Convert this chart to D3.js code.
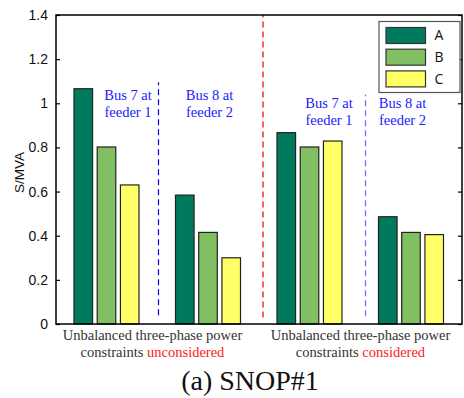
<!DOCTYPE html>
<html>
<head>
<meta charset="utf-8">
<script src="https://cdn.jsdelivr.net/npm/d3@7"></script>
<style>
  html, body { margin: 0; padding: 0; background: #fff; }
  svg { display: block; }
</style>
</head>
<body>
<svg id="chart" width="464" height="398"></svg>
<script>
// Apparent power per phase at the two monitored buses, with and without
// the unbalanced three-phase power constraints.
const groups = ["g1", "g2", "g3", "g4"];
const phases = ["A", "B", "C"];
const phaseA = [1.066, 0.584, 0.867, 0.486];
const phaseB = [0.802, 0.415, 0.802, 0.415];
const phaseC = [0.630, 0.300, 0.829, 0.405];
const busLabels = [["Bus 7 at", "feeder 1"], ["Bus 8 at", "feeder 2"],
                   ["Bus 7 at", "feeder 1"], ["Bus 8 at", "feeder 2"]];
const caseLabels = [["Unbalanced three-phase power", "constraints ", "unconsidered"],
                    ["Unbalanced three-phase power", "constraints ", "considered"]];
const yTicks = [0, 0.2, 0.4, 0.6, 0.8, 1, 1.2, 1.4];
const yLabel = "S/MVA";
const title = "(a) SNOP#1";

const colors = { A: "#007a5e", B: "#80bf62", C: "#ffff66" };
const series = { A: phaseA, B: phaseB, C: phaseC };

const svg = d3.select("#chart");
const m = { left: 56, right: 462, top: 15, bottom: 324 };

const x0 = d3.scaleBand().domain(groups).range([m.left, m.right]).padding(0);
const x1 = d3.scaleBand().domain(phases).range([18, 83]).paddingInner(0.2).paddingOuter(0);
const y = d3.scaleLinear().domain([0, 1.4]).range([m.bottom, m.top]);

const serif = '"Liberation Serif"';
const sans = '"Liberation Sans"';

// bars
const rows = groups.map((g, i) => ({ g, values: phases.map(p => ({ p, v: series[p][i] })) }));
const gg = svg.append("g").selectAll("g").data(rows).join("g")
  .attr("transform", d => `translate(${x0(d.g)},0)`);
gg.selectAll("rect").data(d => d.values).join("rect")
  .attr("x", d => x1(d.p))
  .attr("y", d => y(d.v))
  .attr("width", x1.bandwidth())
  .attr("height", d => y(0) - y(d.v))
  .attr("fill", d => colors[d.p])
  .attr("stroke", "#222")
  .attr("stroke-width", 1.2);

// dashed separators
const sep = [
  { x: x0("g2") + 1, y1: 0.04, y2: 1.095, color: "#0000ff", w: 1.2 },
  { x: x0("g3") + 4, y1: 0.03, y2: 1.4, color: "#e00000", w: 1.2 },
  { x: x0("g4") + 5, y1: 0.035, y2: 1.04, color: "#7070ff", w: 1.3 }
];
svg.append("g").selectAll("line").data(sep).join("line")
  .attr("x1", d => d.x).attr("x2", d => d.x)
  .attr("y1", d => y(d.y1)).attr("y2", d => y(d.y2))
  .attr("stroke", d => d.color)
  .attr("stroke-width", d => d.w)
  .attr("stroke-dasharray", "6,4");

// bus annotations
const busPos = [
  { dx: 72, y: 100 }, { dx: 52, y: 100 }, { dx: 70, y: 108 }, { dx: 42, y: 108 }
];
groups.forEach((g, i) => {
  const t = svg.append("text")
    .attr("x", x0(g) + busPos[i].dx)
    .attr("y", busPos[i].y)
    .attr("text-anchor", "middle")
    .style("font-family", serif)
    .attr("font-size", 14.5)
    .attr("fill", "#1a1aff");
  t.append("tspan").attr("x", x0(g) + busPos[i].dx).text(busLabels[i][0]);
  t.append("tspan").attr("x", x0(g) + busPos[i].dx).attr("dy", 16.5).text(busLabels[i][1]);
});

// frame
svg.append("rect")
  .attr("x", m.left).attr("y", m.top)
  .attr("width", m.right - m.left).attr("height", m.bottom - m.top)
  .attr("fill", "none").attr("stroke", "#000").attr("stroke-width", 1.5);

// y axis (left) with inward ticks
const yAxis = d3.axisLeft(y).tickValues(yTicks).tickSizeInner(-4).tickSizeOuter(0)
  .tickPadding(8).tickFormat(d3.format("~g"));
const ya = svg.append("g").attr("transform", `translate(${m.left},0)`).call(yAxis);
ya.attr("font-family", null);
ya.select(".domain").remove();
ya.selectAll("line").attr("stroke", "#000").attr("stroke-width", 1.2);
ya.selectAll("text").style("font-family", sans).attr("font-size", 14).attr("fill", "#111");

// right side inward ticks
const yr = svg.append("g").attr("transform", `translate(${m.right},0)`)
  .call(d3.axisRight(y).tickValues(yTicks).tickSizeInner(-4).tickSizeOuter(0).tickFormat(""));
yr.select(".domain").remove();
yr.selectAll("line").attr("stroke", "#000").attr("stroke-width", 1.2);

// y label
svg.append("text")
  .attr("transform", `translate(24,${(m.top + m.bottom) / 2 + 3}) rotate(-90)`)
  .attr("text-anchor", "middle")
  .style("font-family", sans).attr("font-size", 13.5).attr("fill", "#111")
  .text(yLabel);

// case labels below the axis
const caseCenters = [(x0("g1") + x0("g2") + x0.bandwidth()) / 2 - 5,
                     (x0("g3") + x0("g4") + x0.bandwidth()) / 2 + 0];
caseLabels.forEach((lab, i) => {
  svg.append("text")
    .attr("x", caseCenters[i]).attr("y", 340)
    .attr("text-anchor", "middle")
    .style("font-family", serif).attr("font-size", 14.5).attr("fill", "#333")
    .text(lab[0]);
  const t = svg.append("text")
    .attr("x", caseCenters[i]).attr("y", 357)
    .attr("text-anchor", "middle")
    .style("font-family", serif).attr("font-size", 14.5).attr("fill", "#333");
  t.append("tspan").text(lab[1]);
  t.append("tspan").attr("fill", "#ff1a1a").text(lab[2]);
});

// title
svg.append("text")
  .attr("x", 250).attr("y", 390)
  .attr("text-anchor", "middle")
  .style("font-family", serif).attr("font-size", 28).attr("fill", "#111")
  .text(title);

// legend
const lg = svg.append("g");
lg.append("rect")
  .attr("x", 379).attr("y", 21.5).attr("width", 81).attr("height", 71)
  .attr("fill", "#fff").attr("stroke", "#555").attr("stroke-width", 1.2);
phases.forEach((p, i) => {
  lg.append("rect")
    .attr("x", 386).attr("y", 27.5 + i * 21.7).attr("width", 39.5).attr("height", 16)
    .attr("fill", colors[p]).attr("stroke", "#333").attr("stroke-width", 1.2);
  lg.append("text")
    .attr("x", 434.5).attr("y", 35.5 + i * 21.7).attr("dy", "0.35em")
    .style("font-family", '"Open Sans"').attr("font-size", 14).attr("fill", "#111")
    .text(p);
});
</script>
</body>
</html>
